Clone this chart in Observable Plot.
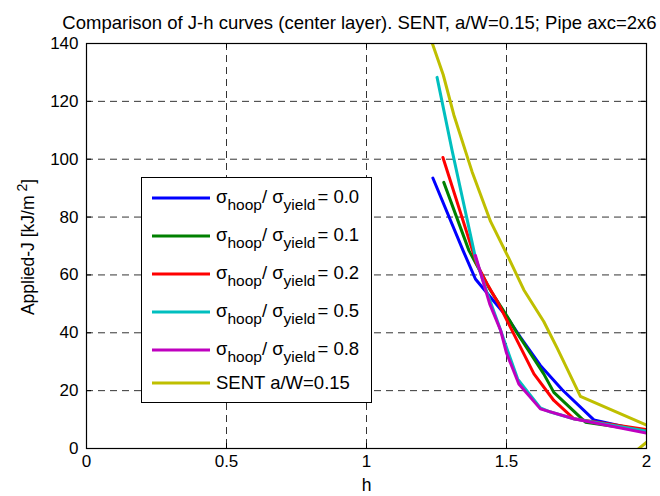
<!DOCTYPE html>
<html><head><meta charset="utf-8">
<script src="https://cdn.jsdelivr.net/npm/d3@7"></script>
<script src="https://cdn.jsdelivr.net/npm/@observablehq/plot@0.6"></script>
<style>
body{margin:0;background:#fff;}
#wrap{position:relative;width:660px;height:496px;}
</style></head><body><div id="wrap"></div>
<script>
const titleText = "Comparison of J-h curves (center layer). SENT, a/W=0.15; Pipe axc=2x6";
const xLabel = "h";
const xTicks = [0, 0.5, 1, 1.5, 2];
const yTicks = [0, 20, 40, 60, 80, 100, 120, 140];

const seriesKeys = ["0.0", "0.1", "0.2", "0.5", "0.8", "SENT"];
const seriesColors = ["#0000ff", "#008000", "#ff0000", "#00bfbf", "#bf00bf", "#bfbf00"];
const legendRatios = ["0.0", "0.1", "0.2", "0.5", "0.8"];
const legendSent = "SENT a/W=0.15";

const hBlue = [1.237, 1.345, 1.389, 1.443, 1.502, 1.55, 1.621, 1.699, 1.812, 2.0];
const jBlue = [93.5, 68.4, 58.6, 52.3, 45.4, 38.4, 28.7, 20.3, 9.9, 5.8];
const hGreen = [1.276, 1.366, 1.443, 1.51, 1.532, 1.633, 1.669, 1.782, 2.0];
const jGreen = [92, 68.4, 54.6, 44.5, 40.8, 25.8, 19.4, 9.1, 6.0];
const hRed = [1.273, 1.395, 1.431, 1.472, 1.502, 1.538, 1.598, 1.669, 1.74, 2.0];
const jRed = [100.6, 63.5, 56.9, 50, 44.2, 37.3, 25.8, 16.6, 10.3, 6.5];
const hCyan = [1.252, 1.306, 1.389, 1.43, 1.475, 1.505, 1.54, 1.621, 1.657, 1.74, 2.0];
const jCyan = [128.3, 102.9, 66, 54, 42, 33.5, 24, 14, 12.6, 10.3, 6.0];
const hMagenta = [1.389, 1.44, 1.479, 1.5, 1.544, 1.621, 1.74, 2.0];
const jMagenta = [66.7, 50, 40.8, 33, 22.3, 13.7, 10.3, 5.3];
const hSent = [1.228, 1.274, 1.312, 1.377, 1.443, 1.508, 1.562, 1.633, 1.681, 1.764, 2.05, 1.96];
const jSent = [142, 129.2, 115.3, 95.7, 78.5, 65.8, 54.8, 43.9, 34.7, 18, 6, -1];

const hs = [hBlue, hGreen, hRed, hCyan, hMagenta, hSent];
const js = [jBlue, jGreen, jRed, jCyan, jMagenta, jSent];
const series = seriesKeys.map((k, i) => hs[i].map((h, j) => ({h, J: js[i][j], k})));

const font = "'Liberation Sans', Arial, Helvetica, sans-serif";
const tickH = 140 * 5 / 405;   // 5px inward tick in data units
const tickW = 2 * 5 / 560;

const inner = xTicks.slice(1, -1);
const innerY = yTicks.slice(1, -1);

const plot = Plot.plot({
  width: 660, height: 496,
  marginLeft: 86, marginRight: 14, marginTop: 43, marginBottom: 48,
  style: {fontFamily: font, fontSize: "17px", color: "#000", background: "#fff"},
  x: {domain: [0, 2]},
  y: {domain: [0, 140]},
  marks: [
    Plot.gridX(inner, {stroke: "#000", strokeOpacity: 0.8, strokeDasharray: "7,5"}),
    Plot.gridY(innerY, {stroke: "#000", strokeOpacity: 0.8, strokeDasharray: "7,5"}),
    ...series.map((d, i) => Plot.line(d, {x: "h", y: "J", stroke: seriesColors[i], strokeWidth: 3, clip: true})),
    Plot.frame({stroke: "#000", strokeWidth: 1.2}),
    Plot.ruleX(xTicks, {x: d => d, y1: 0, y2: tickH, stroke: "#000"}),
    Plot.ruleX(xTicks, {x: d => d, y1: 140 - tickH, y2: 140, stroke: "#000"}),
    Plot.ruleY(yTicks, {y: d => d, x1: 0, x2: tickW, stroke: "#000"}),
    Plot.ruleY(yTicks, {y: d => d, x1: 2 - tickW, x2: 2, stroke: "#000"}),
    Plot.axisX(xTicks, {tickSize: 0, tickPadding: 6, tickFormat: d => String(d), label: null, fontSize: 17}),
    Plot.axisY(yTicks, {tickSize: 0, tickPadding: 8, label: null, fontSize: 17}),
    Plot.text([titleText], {text: d => d, frameAnchor: "top", dx: -7, dy: -28, fontSize: 18.5}),
    Plot.text([xLabel], {text: d => d, frameAnchor: "bottom", dy: 42, fontSize: 17.5})
  ]
});
document.getElementById("wrap").appendChild(plot);

const svg = d3.select(plot);
// y label with superscript
const yl = svg.append("text")
  .attr("transform", "translate(34,247) rotate(-90)")
  .attr("text-anchor", "middle")
  .attr("font-family", font).attr("font-size", 17.5).attr("fill", "#000");
yl.append("tspan").text("Applied-J [kJ/m");
yl.append("tspan").attr("font-size", 14).attr("dy", -7).text(" 2");
yl.append("tspan").attr("dy", 7).text("]");

// legend
const lg = svg.append("g");
lg.append("rect").attr("x", 141.5).attr("y", 177.5).attr("width", 230).attr("height", 225)
  .attr("fill", "#fff").attr("stroke", "#000").attr("stroke-width", 1);
const rowY = [198, 236, 274, 312, 350, 383];
seriesKeys.forEach((k, i) => {
  const y = rowY[i];
  lg.append("line").attr("x1", 152).attr("x2", 210).attr("y1", y).attr("y2", y)
    .attr("stroke", seriesColors[i]).attr("stroke-width", 3);
  const t = lg.append("text").attr("x", 216).attr("y", y + 5)
    .attr("text-anchor", "start")
    .attr("font-family", font).attr("font-size", 18.5).attr("fill", "#000");
  if (i < legendRatios.length) {
    t.append("tspan").text("σ");
    t.append("tspan").attr("font-size", 15.5).attr("dy", 7).text("hoop");
    t.append("tspan").attr("dy", -7).text("/ σ");
    t.append("tspan").attr("font-size", 15.5).attr("dy", 7).text("yield");
    t.append("tspan").attr("dy", -7).attr("dx", 2).text("= " + legendRatios[i]);
  } else {
    t.attr("y", y + 6).text(legendSent);
  }
});
</script></body></html>
